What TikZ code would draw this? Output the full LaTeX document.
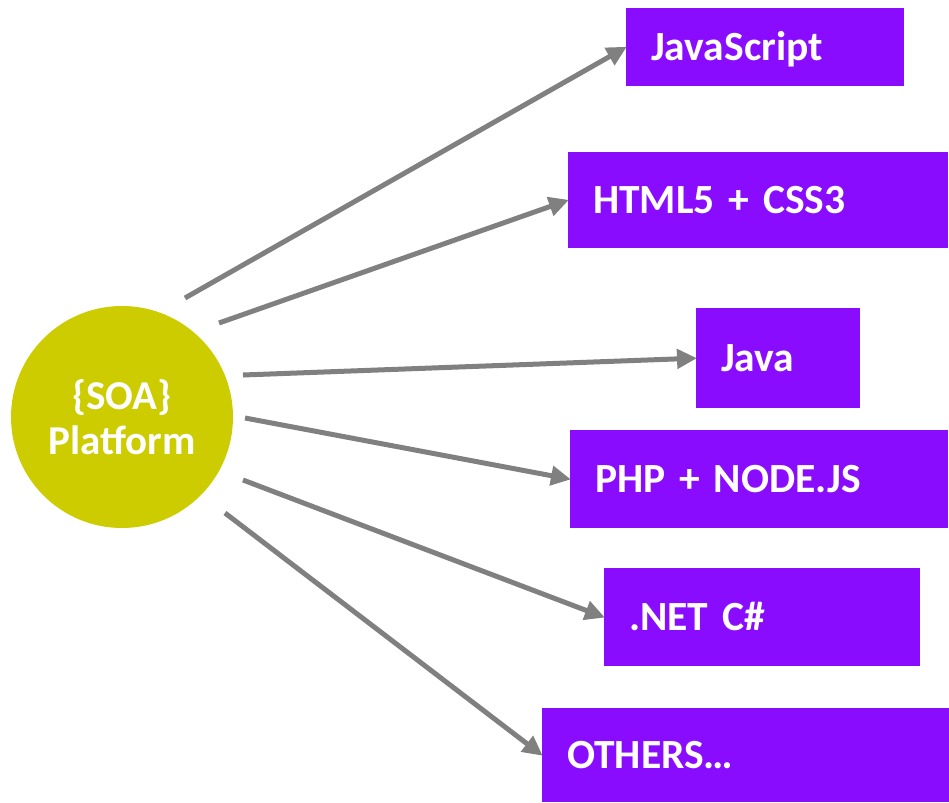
\documentclass[tikz,border=0pt]{standalone}
\usepackage{fontspec}
\setmainfont{Carlito}
\usetikzlibrary{arrows.meta}
\definecolor{techpurple}{HTML}{8A0CFF}
\definecolor{soaolive}{HTML}{CCCC00}
\definecolor{linkgray}{HTML}{808080}
\tikzset{
  techbox/.style n args={2}{draw=none, fill=techpurple, text=white,
    font=\fontsize{41.5}{46}\selectfont\bfseries, anchor=north west,
    inner xsep=25pt, inner ysep=0pt, align=left,
    text height=27pt, text depth=0pt,
    text width=#1-50pt, minimum height=#2},
  hub/.style={circle, fill=soaolive, text=white, minimum size=222pt,
    inner sep=0pt, align=center, font=\fontsize{41}{45}\selectfont\bfseries},
  link/.style={draw=linkgray, line width=5pt,
    -{Triangle[length=20pt,width=19pt]}, shorten >=-1pt},
}
\begin{document}
\begin{tikzpicture}[x=1pt,y=-1pt]
  \useasboundingbox (0,0) rectangle (949,802);

  % central platform
  \node[hub] (soa) at (122,417) {\{SOA\}\\Platform};

  % target technologies
  \node[techbox={278pt}{78pt}] (js)   at (626,8)   {JavaScript};
  \node[techbox={380pt}{96pt}] (html) at (568,152) {HTML5 + CSS3};
  \node[techbox={164pt}{100pt}] (java) at (696,308) {Java};
  \node[techbox={378pt}{98pt}] (php)  at (570,430) {PHP + NODE.JS};
  \node[techbox={316pt}{98pt}] (net)  at (604,568) {.NET C\#};
  \node[techbox={407pt}{94pt}] (oth)  at (542,708) {OTHERS…};

  % connector origins just outside the circle
  \coordinate (s1) at (185,298);
  \coordinate (s2) at (219,323);
  \coordinate (s3) at (243,375);
  \coordinate (s4) at (245,418);
  \coordinate (s5) at (243,480);
  \coordinate (s6) at (225,513);

  \draw[link] (s1) -- (js.west);
  \draw[link] (s2) -- (html.west);
  \draw[link] (s3) -- (java.west);
  \draw[link] (s4) -- (php.west);
  \draw[link] (s5) -- (net.west);
  \draw[link] (s6) -- (oth.west);
\end{tikzpicture}
\end{document}
